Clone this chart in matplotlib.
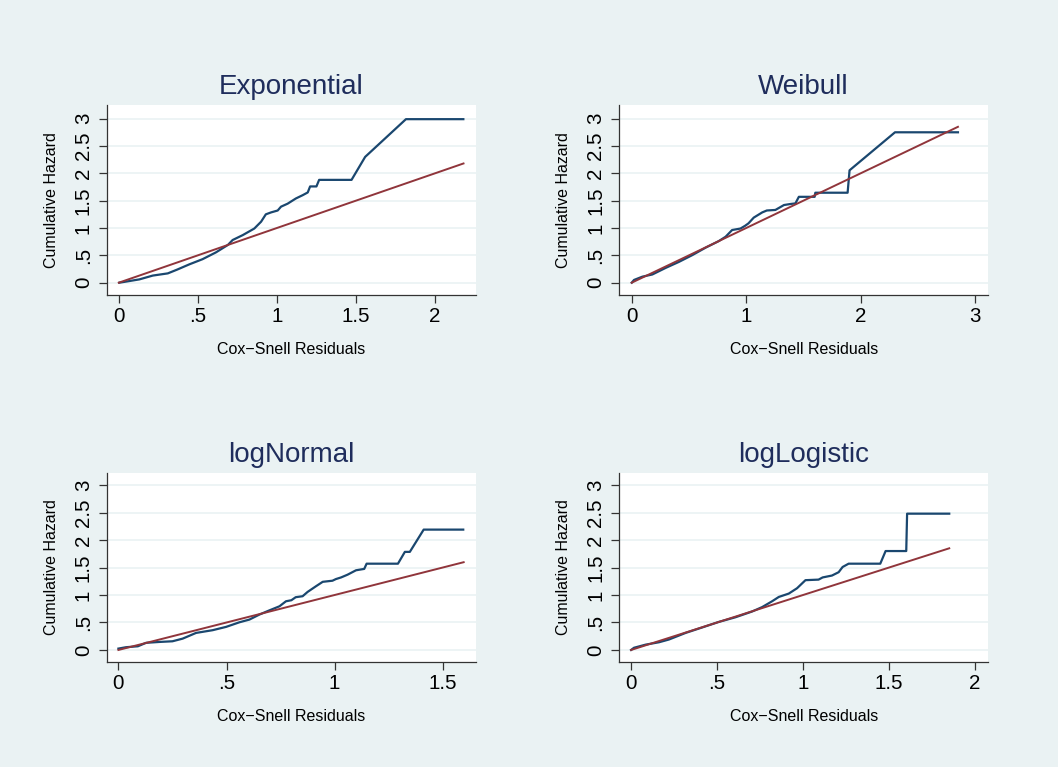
import matplotlib.pyplot as plt

plt.rcParams['font.family'] = ['Liberation Sans', 'DejaVu Sans']

BG = '#EAF2F3'
BLUE = '#1A476F'
RED = '#90353B'
NAVY = '#1F2D5C'

titles = ['Exponential', 'Weibull', 'logNormal', 'logLogistic']

# cumulative hazard vs Cox-Snell residuals
exp_x = [0.004, 0.13, 0.215, 0.31, 0.37, 0.446, 0.53, 0.615, 0.69, 0.72, 0.784,
         0.857, 0.90, 0.93, 0.963, 1.005, 1.026, 1.068, 1.12, 1.163, 1.195, 1.21,
         1.25, 1.267, 1.472, 1.558, 1.816, 2.179]
exp_y = [0.0, 0.06, 0.13, 0.17, 0.24, 0.335, 0.43, 0.555, 0.69, 0.78, 0.87,
         0.99, 1.115, 1.25, 1.285, 1.32, 1.39, 1.445, 1.54, 1.60, 1.65, 1.76,
         1.76, 1.88, 1.88, 2.30, 2.99, 2.99]

wei_x = [0.0, 0.02, 0.093, 0.18, 0.296, 0.412, 0.53, 0.645, 0.76, 0.82, 0.877,
         0.95, 0.99, 1.02, 1.066, 1.14, 1.18, 1.255, 1.33, 1.39, 1.43, 1.46,
         1.598, 1.604, 1.886, 1.903, 2.30, 2.85]
wei_y = [0.0, 0.05, 0.11, 0.15, 0.27, 0.38, 0.505, 0.64, 0.76, 0.84, 0.963,
         0.99, 1.04, 1.085, 1.19, 1.285, 1.32, 1.33, 1.42, 1.44, 1.45, 1.57,
         1.57, 1.645, 1.645, 2.055, 2.75, 2.75]

lnorm_x = [0.0, 0.035, 0.09, 0.128, 0.19, 0.25, 0.297, 0.359, 0.436, 0.498,
           0.56, 0.606, 0.652, 0.698, 0.745, 0.775, 0.80, 0.82, 0.852, 0.875,
           0.914, 0.945, 0.99, 1.006, 1.03, 1.06, 1.099, 1.137, 1.148, 1.293,
           1.325, 1.348, 1.412, 1.595]
lnorm_y = [0.025, 0.05, 0.067, 0.13, 0.146, 0.158, 0.206, 0.31, 0.36, 0.42,
           0.504, 0.553, 0.644, 0.72, 0.795, 0.886, 0.905, 0.96, 0.978, 1.056,
           1.16, 1.24, 1.26, 1.29, 1.32, 1.37, 1.45, 1.475, 1.57, 1.57,
           1.785, 1.785, 2.19, 2.19]

llog_x = [0.0, 0.017, 0.085, 0.162, 0.22, 0.317, 0.414, 0.51, 0.607, 0.704,
          0.762, 0.82, 0.859, 0.917, 0.965, 1.014, 1.09, 1.114, 1.168, 1.207,
          1.23, 1.265, 1.449, 1.48, 1.60, 1.605, 1.85]
llog_y = [0.0, 0.04, 0.097, 0.14, 0.19, 0.31, 0.41, 0.51, 0.595, 0.70,
          0.78, 0.886, 0.965, 1.026, 1.123, 1.27, 1.28, 1.32, 1.354, 1.415,
          1.51, 1.57, 1.57, 1.80, 1.80, 2.48, 2.48]

# end of the 45 degree reference line
ref_max = [2.18, 2.85, 1.597, 1.85]

xticks = [[0, .5, 1, 1.5, 2], [0, 1, 2, 3], [0, .5, 1, 1.5], [0, .5, 1, 1.5, 2]]
xlabels = [['0', '.5', '1', '1.5', '2'], ['0', '1', '2', '3'],
           ['0', '.5', '1', '1.5'], ['0', '.5', '1', '1.5', '2']]
yticks = [0, .5, 1, 1.5, 2, 2.5, 3]
ylabels = ['0', '.5', '1', '1.5', '2', '2.5', '3']

xlims = [(-0.076, 2.259), (-0.111, 3.115), (-0.054, 1.654), (-0.07, 2.077)]
ylims = [(-0.225, 3.249), (-0.225, 3.249), (-0.219, 3.22), (-0.219, 3.22)]

curves = [(exp_x, exp_y), (wei_x, wei_y), (lnorm_x, lnorm_y), (llog_x, llog_y)]

fig = plt.figure(figsize=(10.58, 7.67), dpi=100, facecolor=BG)
positions = [[0.1009, 0.6154, 0.349, 0.2477], [0.5851, 0.6154, 0.349, 0.2477],
             [0.1009, 0.1369, 0.349, 0.2464], [0.5851, 0.1369, 0.349, 0.2464]]

for i in range(4):
    ax = fig.add_axes(positions[i])
    ax.set_facecolor('white')
    for s in ['top', 'right']:
        ax.spines[s].set_visible(False)
    for s in ['left', 'bottom']:
        ax.spines[s].set_color('#333333')
        ax.spines[s].set_linewidth(0.9)

    for yv in yticks:
        ax.axhline(yv, color=BG, lw=1.2, zorder=1)

    ax.plot([0, ref_max[i]], [0, ref_max[i]], color=RED, lw=1.4, zorder=3)
    ax.plot(curves[i][0], curves[i][1], color=BLUE, lw=1.6, zorder=2)

    ax.set_xlim(*xlims[i])
    ax.set_ylim(*ylims[i])
    ax.set_xticks(xticks[i])
    ax.set_xticklabels(xlabels[i], fontsize=14.8)
    ax.set_yticks(yticks)
    ax.set_yticklabels(ylabels, fontsize=14.8, rotation=90, va='center')
    ax.tick_params(length=6, width=0.9, color='#333333', pad=3)
    ax.tick_params(axis='y', pad=4)

    ax.set_xlabel('Cox\u2212Snell Residuals', fontsize=11.5, labelpad=11)
    ax.set_ylabel('Cumulative Hazard', fontsize=11.5, labelpad=11)
    ax.set_title(titles[i], fontsize=20, color=NAVY, pad=8)

fig.savefig('out.png', dpi=100, facecolor=BG)
